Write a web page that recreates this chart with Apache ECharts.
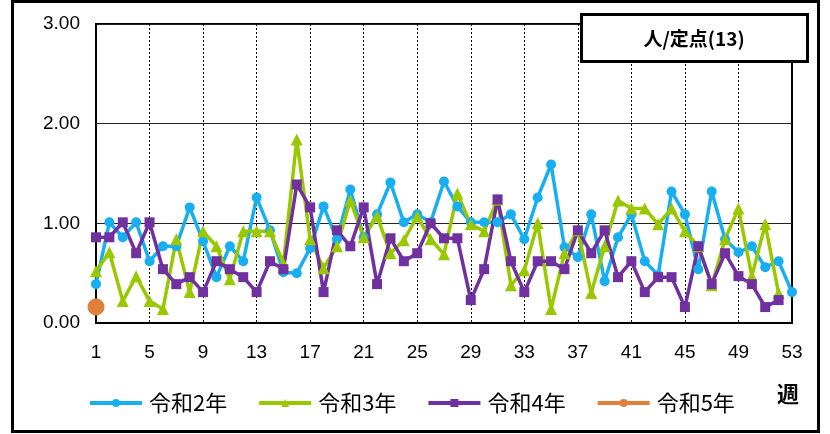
<!DOCTYPE html>
<html><head><meta charset="utf-8">
<script src="https://cdn.jsdelivr.net/npm/echarts@6/dist/echarts.min.js"></script>
<style>html,body{margin:0;padding:0;background:#fff}#c{width:830px;height:434px}</style>
</head><body><div id="c"></div>
<script>
const weeks = Array.from({length:53},(_,i)=>String(i+1));
const r2 = [0.39,1.01,0.86,1.01,0.62,0.77,0.77,1.16,0.82,0.46,0.77,0.62,1.26,0.93,0.51,0.50,0.75,1.17,0.84,1.34,0.86,1.09,1.41,1.01,1.09,1.01,1.42,1.17,1.01,1.01,1.01,1.09,0.84,1.26,1.59,0.76,0.66,1.09,0.42,0.86,1.09,0.62,0.48,1.32,1.09,0.54,1.32,0.84,0.71,0.77,0.56,0.62,0.31];
const r3 = [0.52,0.71,0.22,0.47,0.22,0.14,0.84,0.31,0.92,0.77,0.44,0.92,0.92,0.92,0.60,1.84,0.84,0.55,0.77,1.23,0.86,1.07,0.70,0.83,1.07,0.84,0.69,1.30,0.99,0.92,1.24,0.38,0.53,1.00,0.14,0.70,0.93,0.30,0.77,1.23,1.15,1.15,0.99,1.15,0.92,0.77,0.38,0.84,1.15,0.47,0.99,0.30];
const r4 = [0.86,0.86,1.01,0.70,1.01,0.54,0.39,0.46,0.31,0.62,0.54,0.46,0.31,0.62,0.54,1.39,1.16,0.31,0.93,0.77,1.16,0.39,0.85,0.62,0.70,1.00,0.85,0.85,0.23,0.54,1.24,0.62,0.31,0.62,0.62,0.54,0.93,0.70,0.93,0.46,0.62,0.31,0.46,0.46,0.16,0.77,0.39,0.70,0.47,0.39,0.16,0.23];
const r5 = [0.16];
const names = ['令和2年','令和3年','令和4年','令和5年'];
const unitLabel = '人/定点(13)';
const xName = '週';

const chart = echarts.init(document.getElementById('c'), null, {renderer:'canvas'});
const numFont = 'Liberation Sans, Arial, sans-serif';
const jpFont = '"Noto Sans CJK JP", sans-serif';
function mk(name, data, color, symbol, size){
  return {name, type:'line', data, symbol, symbolSize:size, showAllSymbol:true,
    lineStyle:{color, width:3.5}, itemStyle:{color}, animation:false};
}
chart.setOption({
  animation:false,
  grid:{left:96, right:38, top:24, bottom:111, show:true, borderColor:'#000', borderWidth:2},
  xAxis:{type:'category', data:weeks, boundaryGap:false,
    axisLine:{show:true, lineStyle:{color:'#000', width:2}}, axisTick:{show:false},
    axisLabel:{interval:3, color:'#000', fontSize:19, fontFamily:numFont, margin:20},
    splitLine:{show:true, interval:3, lineStyle:{color:'#000', width:1, type:[2,2]}}},
  yAxis:{type:'value', min:0, max:3, interval:1,
    axisLine:{show:true, lineStyle:{color:'#000', width:2}}, axisTick:{show:false},
    axisLabel:{color:'#000', fontSize:19, fontFamily:numFont, margin:16, formatter:v=>v.toFixed(2)},
    splitLine:{show:true, lineStyle:{color:'#222', width:1}}},
  legend:{left:88, top:392, padding:0, itemWidth:52, itemHeight:10, itemGap:30,
    lineStyle:{width:4},
    textStyle:{fontSize:22, color:'#000', fontFamily:jpFont, padding:[0,0,0,2]},
    data:names},
  series:[
    mk(names[0], r2, '#17AEF2', 'circle', 10),
    mk(names[1], r3, '#99C800', 'triangle', 12),
    mk(names[2], r4, '#7030A0', 'rect', 10),
    mk(names[3], r5, '#E0803A', 'circle', 17)
  ],
  graphic:[
    {type:'rect', shape:{x:12.5, y:1.5, width:806, height:430}, style:{fill:null, stroke:'#000', lineWidth:3}, z:100},
    {type:'rect', shape:{x:581.5, y:14.5, width:226, height:47}, style:{fill:'#fff', stroke:'#000', lineWidth:3}, z:100},
    {type:'text', x:694, y:39, style:{text:unitLabel, font:'bold 19px "Noto Sans CJK JP", sans-serif', fill:'#000', align:'center', verticalAlign:'middle'}, z:101},
    {type:'text', x:788, y:394, style:{text:xName, font:'bold 22px "Noto Sans CJK JP", sans-serif', fill:'#000', align:'center', verticalAlign:'middle'}, z:101}
  ]
});
</script></body></html>
